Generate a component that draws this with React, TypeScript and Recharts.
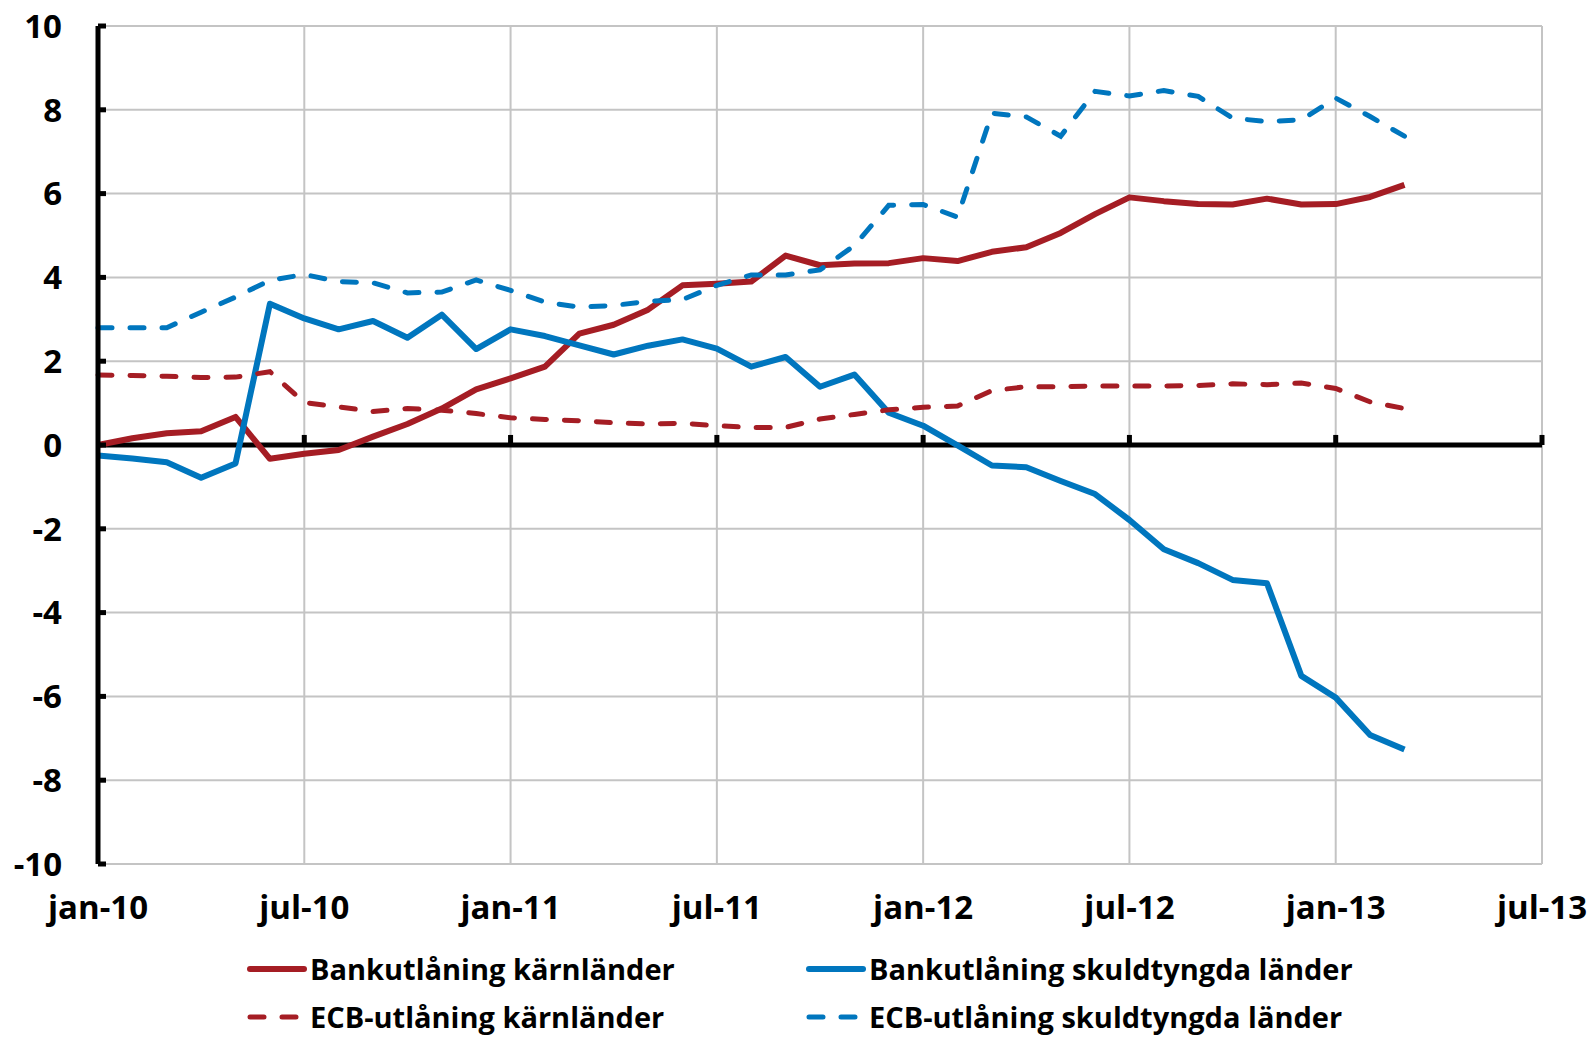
import { LineChart, Line, XAxis, YAxis, CartesianGrid, ReferenceLine, Legend } from 'recharts'

const RED = '#a51d24'
const BLUE = '#0076be'
const FONT = '"Open Sans", "Noto Sans", sans-serif'

const xTickLabels = ['jan-10', 'jul-10', 'jan-11', 'jul-11', 'jan-12', 'jul-12', 'jan-13', 'jul-13']
const xTicks = xTickLabels.map((_, i) => i * 6)
const yTicks = [-10, -8, -6, -4, -2, 0, 2, 4, 6, 8, 10]

// monthly values, jan-10 .. mar-13
const bankCore = [
  0.0, 0.16, 0.28, 0.33, 0.67, -0.33, -0.21, -0.12, 0.2, 0.5, 0.87, 1.33,
  1.59, 1.87, 2.66, 2.87, 3.23, 3.81, 3.85, 3.9, 4.52, 4.29, 4.33, 4.34,
  4.46, 4.39, 4.61, 4.72, 5.06, 5.51, 5.91, 5.82, 5.75, 5.74, 5.88, 5.74,
  5.75, 5.92, 6.21,
]
const bankPeriph = [
  -0.25, -0.32, -0.41, -0.78, -0.44, 3.37, 3.02, 2.76, 2.96, 2.56, 3.11, 2.29,
  2.76, 2.6, 2.38, 2.16, 2.37, 2.52, 2.3, 1.87, 2.1, 1.39, 1.68, 0.77,
  0.46, -0.01, -0.49, -0.53, -0.86, -1.17, -1.79, -2.49, -2.82, -3.22, -3.3, -5.51,
  -6.03, -6.92, -7.27,
]
const ecbCore = [
  1.67, 1.66, 1.64, 1.61, 1.62, 1.75, 1.01, 0.91, 0.8, 0.87, 0.83, 0.75,
  0.65, 0.61, 0.58, 0.53, 0.5, 0.52, 0.46, 0.42, 0.42, 0.62, 0.73, 0.84,
  0.9, 0.93, 1.3, 1.39, 1.39, 1.41, 1.41, 1.41, 1.42, 1.46, 1.44, 1.48,
  1.35, 1.03, 0.87,
]
const ecbPeriph = [
  2.8, 2.8, 2.8, 3.17, 3.53, 3.93, 4.07, 3.9, 3.87, 3.63, 3.65, 3.94,
  3.69, 3.41, 3.29, 3.33, 3.43, 3.47, 3.81, 4.06, 4.06, 4.18, 4.76, 5.72,
  5.74, 5.44, 7.92, 7.83, 7.37, 8.44, 8.33, 8.46, 8.32, 7.8, 7.72, 7.76,
  8.28, 7.84, 7.37,
]

const data = bankCore.map((v, i) => ({
  m: i,
  bankCore: v,
  bankPeriph: bankPeriph[i],
  ecbCore: ecbCore[i],
  ecbPeriph: ecbPeriph[i],
}))

const legendItems = [
  { name: 'Bankutlåning kärnländer', color: RED, dashed: false, left: 247, top: 42 },
  { name: 'Bankutlåning skuldtyngda länder', color: BLUE, dashed: false, left: 806, top: 42 },
  { name: 'ECB-utlåning kärnländer', color: RED, dashed: true, left: 247, top: 90 },
  { name: 'ECB-utlåning skuldtyngda länder', color: BLUE, dashed: true, left: 806, top: 90 },
]

function renderLegend() {
  return (
    <div style={{ position: 'relative', width: 1594, height: 110 }}>
      {legendItems.map((it) => (
        <div
          key={it.name}
          style={{
            position: 'absolute',
            left: it.left,
            top: it.top - 15,
            height: 30,
            display: 'flex',
            alignItems: 'center',
            whiteSpace: 'nowrap',
          }}
        >
          <svg width={60} height={12}>
            <line
              x1={3}
              x2={57}
              y1={6}
              y2={6}
              stroke={it.color}
              strokeWidth={it.dashed ? 5 : 6}
              strokeLinecap="round"
              strokeDasharray={it.dashed ? '14 18' : undefined}
            />
          </svg>
          <span
            style={{
              marginLeft: 3,
              fontFamily: FONT,
              fontWeight: 700,
              fontSize: 29,
              lineHeight: '30px',
              color: '#000',
            }}
          >
            {it.name}
          </span>
        </div>
      ))}
    </div>
  )
}

export default function App() {
  const tickStyle = { fill: '#000', fontSize: 33, fontWeight: 700, fontFamily: FONT }
  return (
    <div style={{ width: 1594, height: 1037 }}>
      <style>{'body{margin:0}'}</style>
      <LineChart
        width={1594}
        height={1037}
        data={data}
        margin={{ top: 26, right: 52, left: 18, bottom: 0 }}
      >
        <CartesianGrid stroke="#c4c4c4" strokeWidth={2} />
        <XAxis
          type="number"
          dataKey="m"
          domain={[0, 42]}
          ticks={xTicks}
          interval={0}
          tickFormatter={(v) => xTickLabels[v / 6]}
          axisLine={false}
          tickLine={false}
          tickMargin={26}
          height={63}
          tick={tickStyle}
        />
        <YAxis
          type="number"
          domain={[-10, 10]}
          ticks={yTicks}
          interval={0}
          width={80}
          allowDataOverflow
          axisLine={{ stroke: '#000', strokeWidth: 5 }}
          tickLine={{ stroke: '#000', strokeWidth: 5 }}
          tickSize={-8}
          tickMargin={44}
          tick={tickStyle}
        />
        <ReferenceLine y={0} stroke="#000" strokeWidth={5} />
        {xTicks.slice(1).map((t) => (
          <ReferenceLine
            key={t}
            segment={[
              { x: t, y: 0 },
              { x: t, y: 0.24 },
            ]}
            stroke="#000"
            strokeWidth={5}
          />
        ))}
        <Legend
          verticalAlign="bottom"
          height={110}
          content={renderLegend}
          wrapperStyle={{ left: 0, bottom: 0, width: 1594, height: 110 }}
        />
        <Line
          type="linear"
          dataKey="bankCore"
          name="Bankutlåning kärnländer"
          stroke={RED}
          strokeWidth={6}
          strokeLinejoin="round"
          dot={false}
          isAnimationActive={false}
        />
        <Line
          type="linear"
          dataKey="bankPeriph"
          name="Bankutlåning skuldtyngda länder"
          stroke={BLUE}
          strokeWidth={6}
          strokeLinejoin="round"
          dot={false}
          isAnimationActive={false}
        />
        <Line
          type="linear"
          dataKey="ecbCore"
          name="ECB-utlåning kärnländer"
          stroke={RED}
          strokeWidth={5}
          strokeDasharray="14 18"
          strokeLinecap="round"
          dot={false}
          isAnimationActive={false}
        />
        <Line
          type="linear"
          dataKey="ecbPeriph"
          name="ECB-utlåning skuldtyngda länder"
          stroke={BLUE}
          strokeWidth={5}
          strokeDasharray="14 18"
          strokeLinecap="round"
          dot={false}
          isAnimationActive={false}
        />
      </LineChart>
    </div>
  )
}
